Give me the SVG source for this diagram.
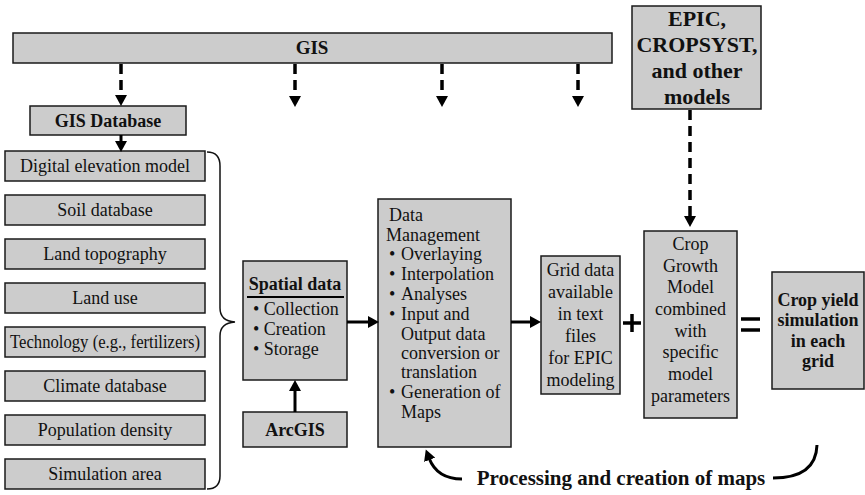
<svg xmlns="http://www.w3.org/2000/svg" width="865" height="495" viewBox="0 0 865 495" font-family="'Liberation Serif', 'DejaVu Serif', serif">
<defs>
<style>
.box{fill:#cccccc;stroke:#1a1a1a;stroke-width:1.5}
text{font-family:'Liberation Serif','DejaVu Serif',serif;fill:#111}
.r{font-size:18px}
.b{font-size:18px;font-weight:bold}
.c{text-anchor:middle}
.ln{stroke:#000;stroke-width:3;fill:none}
.dash{stroke:#000;stroke-width:3.5;stroke-dasharray:10 6;fill:none}
</style>
<marker id="ah" markerUnits="userSpaceOnUse" markerWidth="12" markerHeight="12" refX="0" refY="6" orient="auto">
<path d="M0,0 L11,6 L0,12 z" fill="#000"/>
</marker>
<marker id="ah2" markerUnits="userSpaceOnUse" markerWidth="12" markerHeight="12" refX="2" refY="6" orient="auto">
<path d="M0,0 L11,6 L0,12 z" fill="#000"/>
</marker>
</defs>
<rect width="865" height="495" fill="#fff"/>

<g id="gis">
<rect class="box" x="13" y="33" width="599" height="30"/>
<text class="b c" x="312" y="54" style="font-size:19px">GIS</text>
</g>
<g id="epic">
<rect class="box" x="632" y="6" width="129" height="103"/>
<text class="b c" x="697" y="26" style="font-size:22px">EPIC,</text>
<text class="b c" x="697" y="52" style="font-size:22px">CROPSYST,</text>
<text class="b c" x="697" y="78" style="font-size:22px">and other</text>
<text class="b c" x="697" y="104" style="font-size:22px">models</text>
</g>
<g id="gisdb">
<rect class="box" x="30" y="106" width="156" height="29"/>
<text class="b c" x="108" y="127">GIS Database</text>
</g>
<g id="dem"><rect class="box" x="5" y="151" width="200" height="30"/><text class="r c" x="105" y="172">Digital elevation model</text></g>
<g id="soil"><rect class="box" x="5" y="195" width="200" height="30"/><text class="r c" x="105" y="216">Soil database</text></g>
<g id="topo"><rect class="box" x="5" y="239" width="200" height="30"/><text class="r c" x="105" y="260">Land topography</text></g>
<g id="landuse"><rect class="box" x="5" y="283" width="200" height="30"/><text class="r c" x="105" y="304">Land use</text></g>
<g id="tech"><rect class="box" x="5" y="327" width="200" height="30"/><text class="r c" x="105" y="348" textLength="190" lengthAdjust="spacingAndGlyphs">Technology (e.g., fertilizers)</text></g>
<g id="climate"><rect class="box" x="5" y="371" width="200" height="30"/><text class="r c" x="105" y="392">Climate database</text></g>
<g id="pop"><rect class="box" x="5" y="415" width="200" height="30"/><text class="r c" x="105" y="436">Population density</text></g>
<g id="sim"><rect class="box" x="5" y="459" width="200" height="30"/><text class="r c" x="105" y="480">Simulation area</text></g>

<g id="spatial">
<rect class="box" x="243" y="261" width="104" height="119"/>
<text class="b c" x="295" y="290">Spatial data</text>
<line x1="247" y1="297" x2="344" y2="297" stroke="#000" stroke-width="2"/>
<text class="r" x="253" y="315">• Collection</text>
<text class="r" x="253" y="335">• Creation</text>
<text class="r" x="253" y="355">• Storage</text>
</g>
<g id="arcgis">
<rect class="box" x="243" y="412" width="104" height="35"/>
<text class="b c" x="295" y="436">ArcGIS</text>
</g>
<g id="dm">
<rect class="box" x="378" y="199" width="133" height="248"/>
<text class="r" x="389" y="221">Data</text>
<text class="r" x="386" y="241">Management</text>
<text class="r" x="389" y="260">•</text><text class="r" x="401" y="260">Overlaying</text>
<text class="r" x="389" y="280">•</text><text class="r" x="401" y="280">Interpolation</text>
<text class="r" x="389" y="300">•</text><text class="r" x="401" y="300">Analyses</text>
<text class="r" x="389" y="320">•</text><text class="r" x="401" y="320">Input and</text>
<text class="r" x="401" y="340">Output data</text>
<text class="r" x="401" y="359">conversion or</text>
<text class="r" x="401" y="378">translation</text>
<text class="r" x="389" y="398">•</text><text class="r" x="401" y="398">Generation of</text>
<text class="r" x="401" y="418">Maps</text>
</g>
<g id="grid">
<rect class="box" x="541" y="256" width="79" height="138"/>
<text class="r c" x="580.5" y="276">Grid data</text>
<text class="r c" x="580.5" y="298">available</text>
<text class="r c" x="580.5" y="320">in text</text>
<text class="r c" x="580.5" y="342">files</text>
<text class="r c" x="580.5" y="364">for EPIC</text>
<text class="r c" x="580.5" y="386">modeling</text>
</g>
<g id="plus">
<line x1="623" y1="323" x2="641" y2="323" stroke="#000" stroke-width="3.5"/>
<line x1="632" y1="314" x2="632" y2="332" stroke="#000" stroke-width="3.5"/>
</g>
<g id="cgm">
<rect class="box" x="644" y="231" width="93" height="187"/>
<text class="r c" x="690.5" y="250">Crop</text>
<text class="r c" x="690.5" y="272">Growth</text>
<text class="r c" x="690.5" y="293">Model</text>
<text class="r c" x="690.5" y="315">combined</text>
<text class="r c" x="690.5" y="337">with</text>
<text class="r c" x="690.5" y="358">specific</text>
<text class="r c" x="690.5" y="380">model</text>
<text class="r c" x="690.5" y="402">parameters</text>
</g>
<g id="equals">
<line x1="741" y1="319" x2="760" y2="319" stroke="#000" stroke-width="3.5"/>
<line x1="741" y1="330" x2="760" y2="330" stroke="#000" stroke-width="3.5"/>
</g>
<g id="yield">
<rect class="box" x="772" y="272" width="92" height="117"/>
<text class="b c" x="818" y="306">Crop yield</text>
<text class="b c" x="818" y="326">simulation</text>
<text class="b c" x="818" y="347">in each</text>
<text class="b c" x="818" y="367">grid</text>
</g>

<g id="connectors">
<line class="dash" x1="121" y1="64" x2="121" y2="95" marker-end="url(#ah)"/>
<line class="dash" x1="295" y1="64" x2="295" y2="96" marker-end="url(#ah)"/>
<line class="dash" x1="442" y1="64" x2="442" y2="96" marker-end="url(#ah)"/>
<line class="dash" x1="578" y1="64" x2="578" y2="96" marker-end="url(#ah)"/>
<line class="dash" x1="690" y1="110" x2="690" y2="216" marker-end="url(#ah)"/>
<line class="ln" x1="121" y1="135" x2="121" y2="141" marker-end="url(#ah)"/>
<line class="ln" x1="347" y1="322" x2="368" y2="322" marker-end="url(#ah)"/>
<line class="ln" x1="295" y1="412" x2="295" y2="391" marker-end="url(#ah)"/>
<line class="ln" x1="511" y1="322" x2="530" y2="322" marker-end="url(#ah)"/>
<path d="M207,152 Q220,152 220,166 L220,308 Q220,321 235,322 Q220,323 220,336 L220,476 Q220,489 207,489" fill="none" stroke="#111" stroke-width="1.5"/>
<path class="ln" d="M817,445 Q816,478 773,478"/>
<path class="ln" d="M462,479 Q437,479 429,458" marker-end="url(#ah2)"/>
<text class="b c" x="621" y="485" style="font-size:21px">Processing and creation of maps</text>
</g>
</svg>
